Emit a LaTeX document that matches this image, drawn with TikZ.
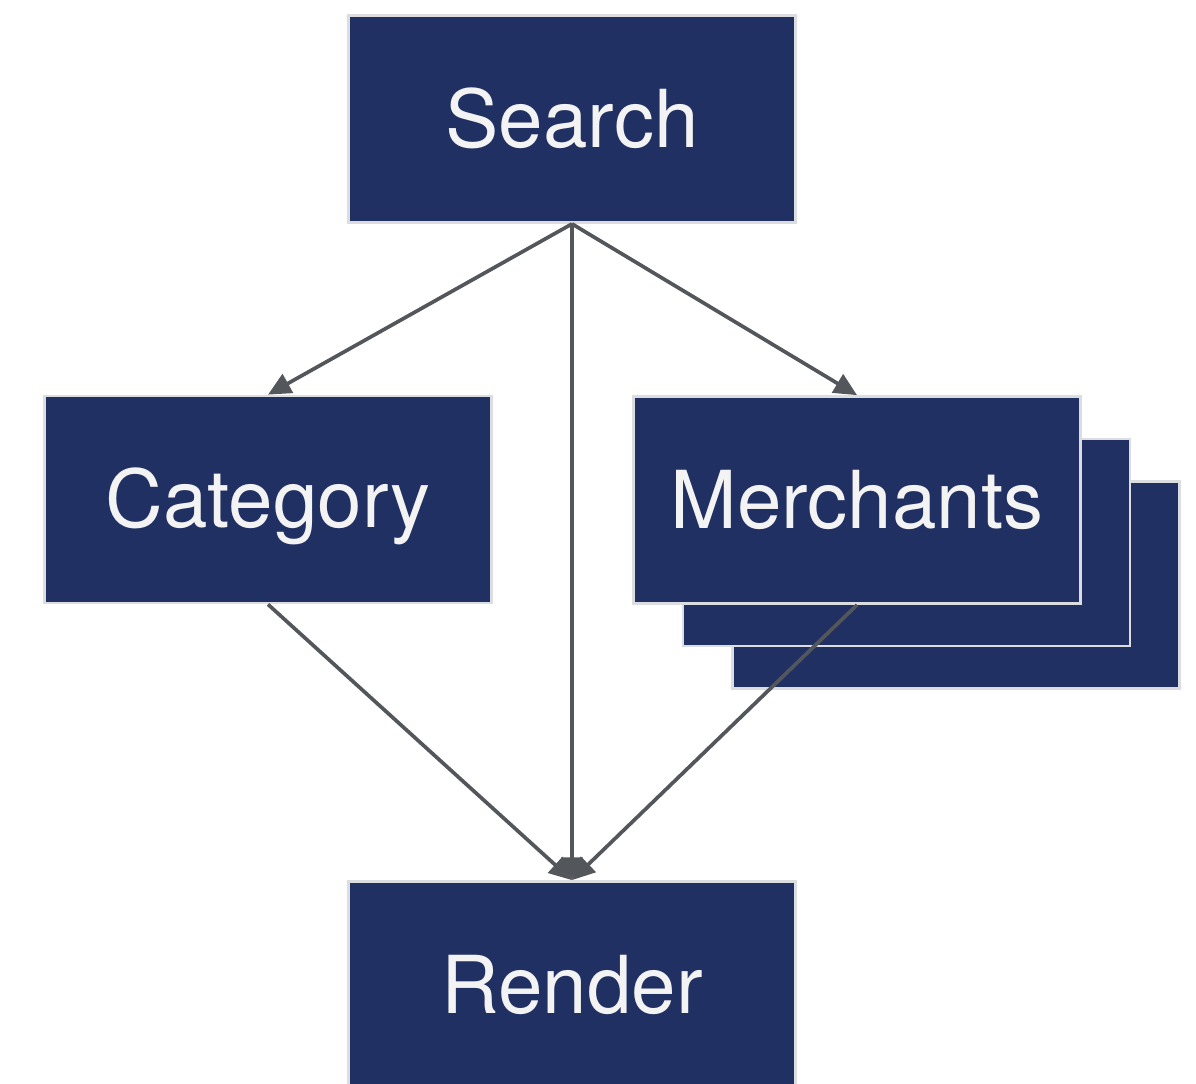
\documentclass[tikz,border=0pt]{standalone}
\usepackage{fontspec}
\setmainfont{TeX Gyre Heros}
\usetikzlibrary{arrows.meta,shadows}

\definecolor{navy}{HTML}{203062}
\definecolor{rim}{HTML}{DCDDE1}
\definecolor{wire}{HTML}{53565B}
\definecolor{label}{HTML}{F3F3F3}

\begin{document}
\begin{tikzpicture}[x=0.02cm, y=-0.02cm,
  box/.style={rectangle, fill=navy, draw=rim, line width=1.6pt,
    minimum width=8.94cm, minimum height=4.14cm, inner sep=0pt,
    text height=32pt, text depth=0pt,
    text=label, font=\fontsize{45.5}{54}\selectfont},
  stack/.style={double copy shadow={shadow xshift=0.99cm, shadow yshift=-0.85cm,
    fill=navy, draw=rim, line width=1.6pt}},
  link/.style={draw=wire, line width=2.1pt, -{Triangle[length=13pt, width=12pt]}}]
  \useasboundingbox (0,0) rectangle (1196,1083);
  % boxes
  \node[box] (search) at (572,119) {Search};
  \node[box] (category) at (268,499.5) {Category};
  \node[box, stack] (merchants) at (857,500) {Merchants};
  \node[box] (render) at (572,985) {Render};
  % links
  \draw[link] (search.south) -- (category.north);
  \draw[link] (search.south) -- (merchants.north);
  \draw[link] (search.south) -- (render.north);
  \draw[link] (category.south) -- (render.north);
  \draw[link] (merchants.south) -- (render.north);
\end{tikzpicture}
\end{document}
